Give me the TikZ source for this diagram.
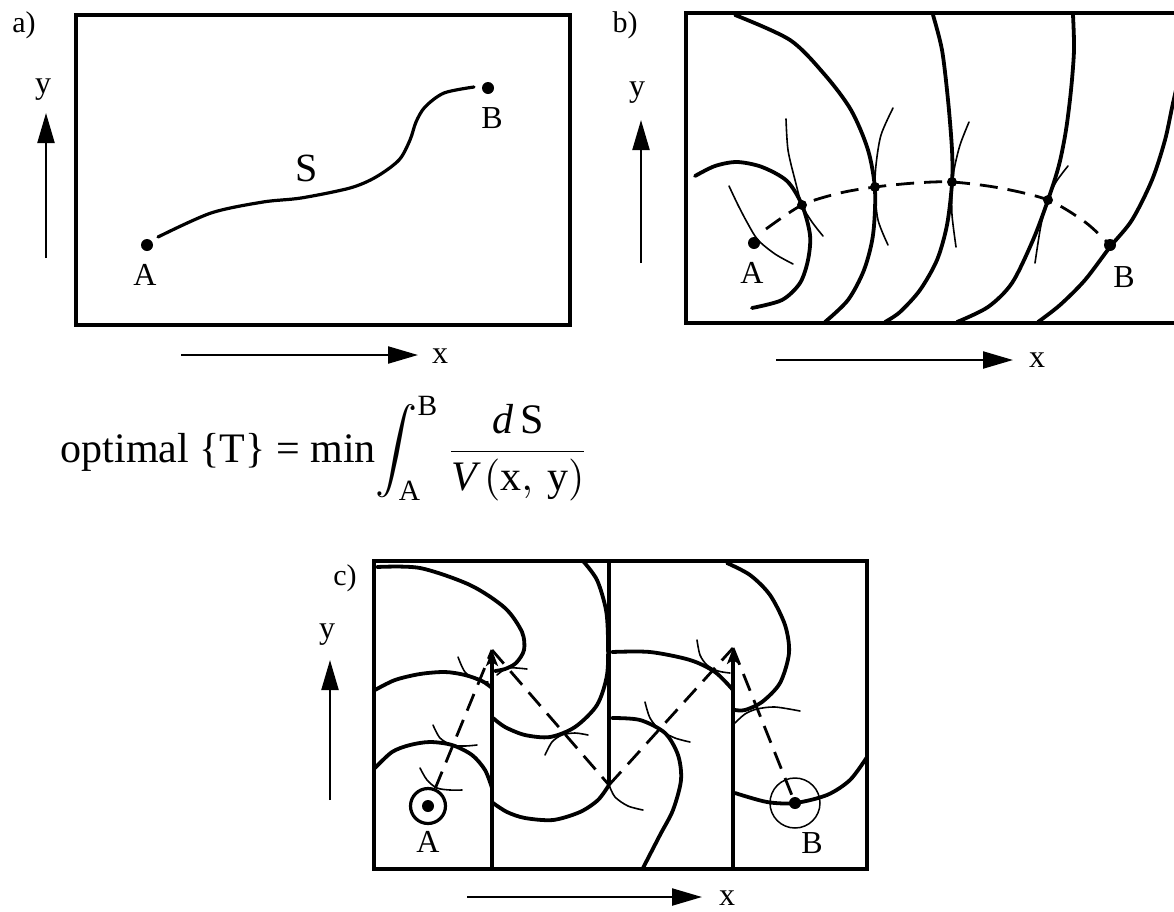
\documentclass[tikz,border=0pt]{standalone}
\usepackage{fontspec}
\setmainfont{Liberation Serif}
\usetikzlibrary{arrows.meta}
\begin{document}
\begin{tikzpicture}[x=1pt,y=-1pt,
  frame/.style={line width=4.5pt},
  wave/.style={line width=3.8pt, line cap=round},
  thinarc/.style={line width=1.6pt, line cap=round},
  axis/.style={line width=2.2pt, -{Triangle[length=30pt,width=17pt]}},
  dashline/.style={line width=2.8pt, dash pattern=on 18pt off 10pt},
  wall/.style={line width=4pt},
  walltip/.style={line width=4pt, -{Stealth[length=16pt,width=12pt,inset=4pt]}},
  dot/.style={circle, fill, inner sep=0pt, minimum size=12pt},
  sdot/.style={circle, fill, inner sep=0pt, minimum size=10pt},
  lab/.style={font=\fontsize{32}{36}\selectfont, inner sep=0pt}]
\useasboundingbox (0,0) rectangle (1174,911);
\clip (0,0) rectangle (1174,911);

% ---------------- panel a ----------------
\node[lab, font=\fontsize{30}{34}\selectfont] (la) at (24,25) {a)};
\draw[frame] (76,15) rectangle (570,325);
\coordinate (ay0) at (46,258); \coordinate (ay1) at (46,113);
\draw[axis] (ay0) -- (ay1);
\node[lab] (ya) at (43,90) {y};
\coordinate (ax0) at (181,355); \coordinate (ax1) at (418,355);
\draw[axis] (ax0) -- (ax1);
\node[lab] (xa) at (440,356) {x};
\node[dot] (aA) at (147,245) {};
\node[dot] (aB) at (488,88) {};
\node[lab] (aAl) at (145,275) {A};
\node[lab] (aBl) at (492,118) {B};
\node[lab, font=\fontsize{40}{44}\selectfont] (aS) at (307,168) {S};
\draw[wave, line width=3.2pt] plot[smooth] coordinates {(158,237) (211,213) (263,202) (301,198) (350,188) (376,177) (399,160) (410,140) (416,122) (425,107) (444,93) (474,87)};

% ---------------- panel b ----------------
\node[lab, font=\fontsize{30}{34}\selectfont] (lb) at (625,25) {b)};
\draw[frame] (1180,13) -- (686,13) -- (686,323) -- (1180,323);
\coordinate (by0) at (641,263); \coordinate (by1) at (641,120);
\draw[axis] (by0) -- (by1);
\node[lab] (yb) at (637,93) {y};
\coordinate (bx0) at (776,360); \coordinate (bx1) at (1013,360);
\draw[axis] (bx0) -- (bx1);
\node[lab] (xb) at (1037,360) {x};
% wavefronts
\draw[wave] plot[smooth] coordinates {(695,176) (715,166) (737,162) (762,167) (787,181) (802,205) (810,235) (808,260) (800,283) (782,300) (752,308)};
\draw[wave] plot[smooth] coordinates {(735,15) (790,40) (825,75) (851,110) (868,150) (875,190) (873,235) (864,270) (848,300) (825,322)};
\draw[wave] plot[smooth] coordinates {(933,15) (942,50) (948,100) (952,150) (952,183) (947,225) (937,260) (920,290) (900,312) (885,322)};
\draw[wave] plot[smooth] coordinates {(1073,15) (1074,50) (1071,90) (1066,130) (1059,165) (1048,200) (1033,240) (1012,283) (988,307) (957,322)};
\draw[wave] plot[smooth] coordinates {(1183,60) (1173,103) (1165,140) (1152,180) (1132,220) (1110,247) (1085,280) (1060,305) (1038,322)};
% thin arcs
\draw[thinarc] plot[smooth] coordinates {(729,186) (738,205) (748,224) (758,240) (775,254) (793,264)};
\draw[thinarc] plot[smooth] coordinates {(786,119) (788,150) (795,180) (802,205) (812,222) (823,236)};
\draw[thinarc] plot[smooth] coordinates {(893,108) (881,135) (876,165) (875,190) (878,220) (888,245)};
\draw[thinarc] plot[smooth] coordinates {(969,122) (960,145) (954,170) (952,190) (952,215) (956,247)};
\draw[thinarc] plot[smooth] coordinates {(1068,166) (1056,182) (1048,200) (1041,225) (1035,263)};
% points
\node[dot] (bA) at (754,243) {};
\node[sdot] (b1) at (802,205) {};
\node[sdot] (b2) at (875,187) {};
\node[sdot] (b3) at (952,182) {};
\node[sdot] (b4) at (1048,200) {};
\node[dot] (bB) at (1110,245) {};
\node[lab] (bAl) at (752,273) {A};
\node[lab] (bBl) at (1124,277) {B};
\draw[dashline] plot[smooth] coordinates {(766,229) (b1) (840,193) (b2) (915,183) (b3) (1000,188) (b4) (1085,222) (bB)};

% ---------------- formula ----------------
\node[anchor=base west, scale=4.2, inner sep=0pt] (formula) at (60,462)
  {optimal \{T\} = min$\displaystyle\int_{\mathrm{A}}^{\mathrm{B}}\frac{\mathit{d}\,\mathrm{S}}{\mathit{V}\,(\mathrm{x},\,\mathrm{y})}$};

% ---------------- panel c ----------------
\node[lab, font=\fontsize{30}{34}\selectfont] (lc) at (345,578) {c)};
\coordinate (cy0) at (330,800); \coordinate (cy1) at (330,660);
\draw[axis] (cy0) -- (cy1);
\node[lab] (yc) at (327,635) {y};
\coordinate (cx0) at (467,897); \coordinate (cx1) at (702,897);
\draw[axis] (cx0) -- (cx1);
\node[lab] (xc) at (727,898) {x};
\draw[frame] (374,561) rectangle (867,869);
\coordinate (w1base) at (492,869); \coordinate (w1tip) at (492,650);
\coordinate (w2top) at (609,561); \coordinate (w2end) at (609,785);
\coordinate (w3base) at (733,869); \coordinate (w3tip) at (733,648);
\draw[walltip] (w1base) -- (w1tip);
\draw[wall] (w2top) -- (w2end);
\draw[walltip] (w3base) -- (w3tip);
% wavefronts
\draw[wave] plot[smooth] coordinates {(375,768) (392,752) (410,745) (430,742) (452,745) (472,755) (485,770) (492,788)};
\draw[wave] plot[smooth] coordinates {(375,690) (395,680) (420,674) (445,672) (465,675) (482,681) (492,688)};
\draw[wave] plot[smooth] coordinates {(377,567) (420,568) (470,585) (505,608) (522,632) (524,650) (516,663) (505,669) (495,671)};
\draw[wave] plot[smooth] coordinates {(583,561) (597,580) (606,610) (608,640) (607,675) (597,705) (575,727) (550,737) (525,735) (505,727) (493,718)};
\draw[wave] plot[smooth] coordinates {(493,803) (507,812) (525,818) (553,820) (580,812) (598,800) (609,785)};
\draw[wave] plot[smooth] coordinates {(727,563) (750,575) (770,595) (785,625) (789,653) (780,683) (762,702) (745,710) (735,710)};
\draw[wave] plot[smooth] coordinates {(612,652) (650,652) (690,660) (715,672) (733,690)};
\draw[wave] plot[smooth] coordinates {(612,718) (640,720) (665,733) (678,755) (681,780) (673,810) (660,835) (643,868)};
\draw[wave] plot[smooth] coordinates {(735,793) (767,802) (795,803) (827,795) (850,780) (867,757)};
% thin arcs
\draw[thinarc] plot[smooth] coordinates {(420,768) (427,780) (437,788) (450,790) (462,790)};
\draw[thinarc] plot[smooth] coordinates {(433,725) (440,738) (452,745) (465,746) (477,745)};
\draw[thinarc] plot[smooth] coordinates {(458,657) (465,672) (477,680) (488,682)};
\draw[thinarc] plot[smooth] coordinates {(497,675) (508,668) (527,669)};
\draw[thinarc] plot[smooth] coordinates {(545,755) (552,742) (562,735) (575,733) (588,735)};
\draw[thinarc] plot[smooth] coordinates {(609,785) (615,797) (628,806) (643,810)};
\draw[thinarc] plot[smooth] coordinates {(645,702) (650,718) (660,730) (675,738) (690,742)};
\draw[thinarc] plot[smooth] coordinates {(697,640) (700,655) (707,665) (718,671) (730,673)};
\draw[thinarc] plot[smooth] coordinates {(735,723) (745,714) (757,709) (775,707) (800,711)};
% A and B
\node[circle, draw, line width=3.2pt, inner sep=0pt, minimum size=35pt] (cAring) at (428,806) {};
\node[dot] (cA) at (428,806) {};
\node[circle, draw, line width=1.5pt, inner sep=0pt, minimum size=50pt] (cBring) at (795,803) {};
\node[dot] (cB) at (795,803) {};
\node[lab] (cAl) at (428,842) {A};
\node[lab] (cBl) at (812,843) {B};
% optimal path
\draw[dashline] (cAring) -- (w1tip);
\draw[dashline] (w1tip) -- (w2end);
\draw[dashline] (w2end) -- (w3tip);
\draw[dashline] (w3tip) -- (cB);
\end{tikzpicture}
\end{document}
